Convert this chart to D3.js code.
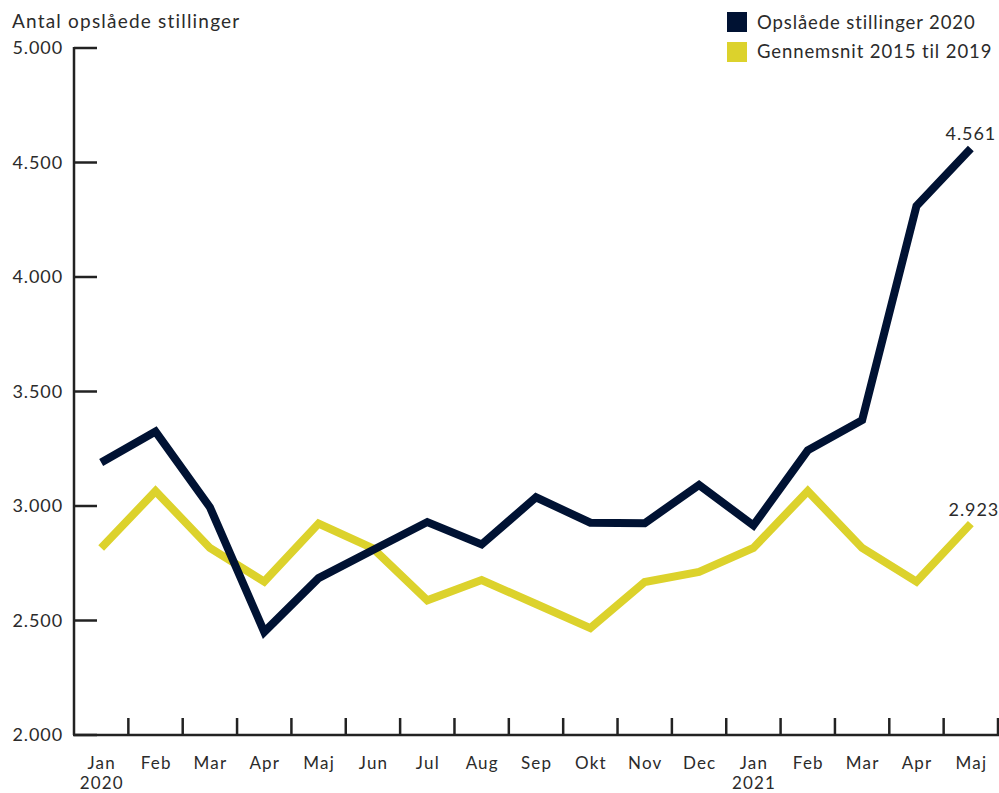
<!DOCTYPE html>
<html><head><meta charset="utf-8">
<script src="https://cdn.jsdelivr.net/npm/d3@7"></script>
<style>
html,body{margin:0;padding:0;background:#fff;}
svg{display:block;font-family:Lato,"Open Sans",sans-serif;}
</style></head>
<body><svg id="c" width="999" height="793"></svg>
<script>
const months = ["Jan","Feb","Mar","Apr","Maj","Jun","Jul","Aug","Sep","Okt","Nov","Dec","Jan","Feb","Mar","Apr","Maj"];
const years = ["2020","","","","","","","","","","","","2021","","","",""];
const series2020 = [3190,3325,2995,2450,2685,2808,2930,2832,3038,2927,2925,3092,2915,3243,3375,4310,4561];
const avg2015_2019 = [2817,3065,2817,2670,2923,2815,2588,2677,2572,2467,2668,2712,2817,3065,2817,2670,2923];
const yTicks = [2000,2500,3000,3500,4000,4500,5000];
const seriesNames = ["Opslåede stillinger 2020","Gennemsnit 2015 til 2019"];
const colors = ["#001233","#dcd22c"];

const svg = d3.select("#c");
const x = d3.scaleBand().domain(d3.range(months.length)).range([74,998]).padding(0);
const y = d3.scaleLinear().domain([2000,5000]).range([735,48]);
const fmt = v => d3.format(",")(v).replace(/,/g,".");
const txt = "#2b2b2b";
const LS = 0.9;

// Y axis
svg.append("line").attr("x1",74).attr("x2",74).attr("y1",y(5000)-1).attr("y2",735)
  .attr("stroke","#222").attr("stroke-width",2.5);
svg.selectAll(".yt").data(yTicks).enter().append("line")
  .attr("x1",74).attr("x2",97).attr("y1",d=>y(d)).attr("y2",d=>y(d))
  .attr("stroke","#222").attr("stroke-width",2.5);
svg.selectAll(".yl").data(yTicks).enter().append("text")
  .attr("x",63).attr("y",d=>y(d)).attr("dy","0.35em").attr("text-anchor","end")
  .attr("font-size",18).attr("letter-spacing",LS).attr("fill",txt).text(fmt);

// X axis
svg.append("line").attr("x1",73).attr("x2",999).attr("y1",735).attr("y2",735)
  .attr("stroke","#222").attr("stroke-width",2.5);
svg.selectAll(".xt").data(d3.range(months.length)).enter().append("line")
  .attr("x1",d=>x(d)+x.bandwidth()).attr("x2",d=>x(d)+x.bandwidth())
  .attr("y1",735).attr("y2",718).attr("stroke","#222").attr("stroke-width",2.5);
svg.selectAll(".xl").data(months).enter().append("text")
  .attr("x",(d,i)=>x(i)+x.bandwidth()/2+0.6).attr("y",769).attr("text-anchor","middle")
  .attr("font-size",17).attr("letter-spacing",1.2).attr("fill",txt).text(d=>d);
svg.selectAll(".yr").data(years).enter().append("text")
  .attr("x",(d,i)=>x(i)+x.bandwidth()/2+0.6).attr("y",789).attr("text-anchor","middle")
  .attr("font-size",17).attr("letter-spacing",1.2).attr("fill",txt).text(d=>d);

// Lines
const line = d3.line().x((d,i)=>x(i)+x.bandwidth()/2).y(d=>y(d));
[avg2015_2019, series2020].forEach((s,k)=>{
  svg.append("path").attr("d",line(s)).attr("fill","none")
    .attr("stroke", k===0?colors[1]:colors[0]).attr("stroke-width",8)
    .attr("stroke-linejoin","miter").attr("stroke-linecap","butt");
});

// End labels
const last = months.length-1;
svg.append("text").attr("x",x(last)+x.bandwidth()/2).attr("y",y(series2020[last])-9)
  .attr("text-anchor","middle").attr("font-size",18).attr("letter-spacing",LS).attr("fill",txt).text(fmt(series2020[last]));
svg.append("text").attr("x",x(last)+x.bandwidth()/2+3).attr("y",y(avg2015_2019[last])-8)
  .attr("text-anchor","middle").attr("font-size",18).attr("letter-spacing",LS).attr("fill",txt).text(fmt(avg2015_2019[last]));

// Title
svg.append("text").attr("x",12).attr("y",28).attr("font-size",19).attr("letter-spacing",1.2).attr("fill",txt).text("Antal opslåede stillinger");

// Legend
seriesNames.forEach((n,i)=>{
  svg.append("rect").attr("x",727).attr("y",12+i*30).attr("width",20).attr("height",20).attr("fill",colors[i]);
  svg.append("text").attr("x",757).attr("y",29+i*29).attr("font-size",18.5).attr("letter-spacing",LS).attr("fill",txt).text(n);
});
</script></body></html>
